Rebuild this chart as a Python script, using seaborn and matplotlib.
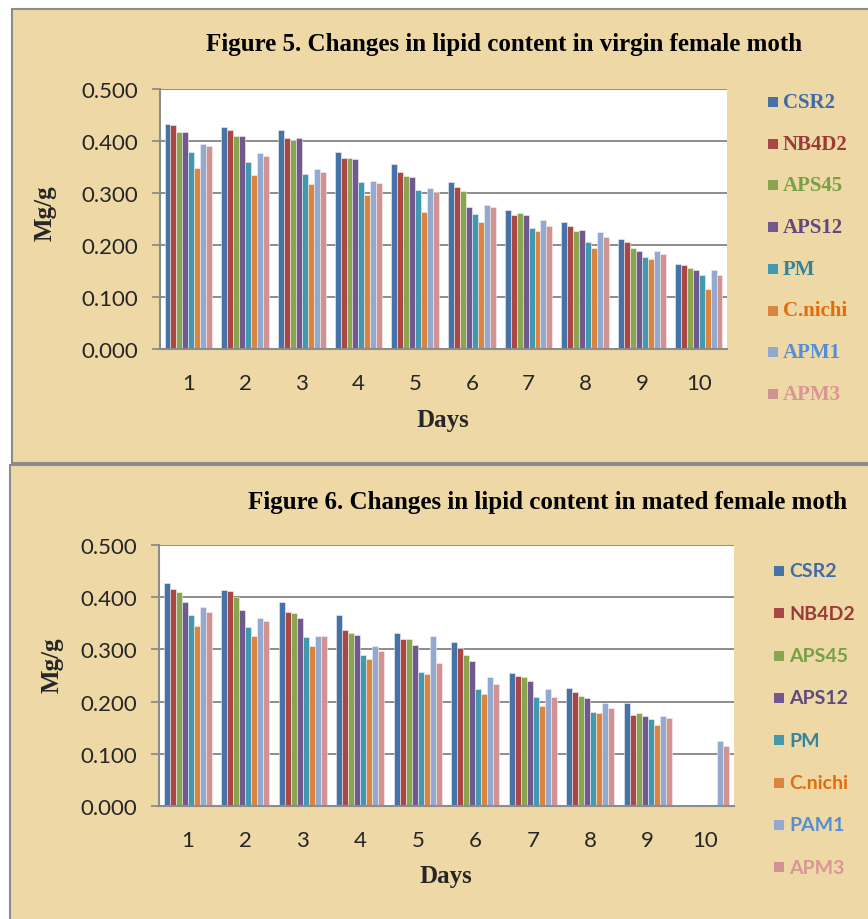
import numpy as np
import pandas as pd
import matplotlib
matplotlib.use("Agg")
import matplotlib.pyplot as plt
from matplotlib.patches import Rectangle
import seaborn as sns

sns.set_style("white")

days = ["1", "2", "3", "4", "5", "6", "7", "8", "9", "10"]
strains_top = ["CSR2", "NB4D2", "APS45", "APS12", "PM", "C.nichi", "APM1", "APM3"]
strains_bot = ["CSR2", "NB4D2", "APS45", "APS12", "PM", "C.nichi", "PAM1", "APM3"]

# Figure 5: virgin female moth (per strain, days 1..10)
v_csr2 = [0.433, 0.427, 0.422, 0.378, 0.356, 0.322, 0.267, 0.245, 0.211, 0.163]
v_nb4d2 = [0.431, 0.422, 0.406, 0.368, 0.340, 0.312, 0.258, 0.237, 0.205, 0.161]
v_aps45 = [0.418, 0.409, 0.402, 0.368, 0.333, 0.303, 0.262, 0.226, 0.195, 0.155]
v_aps12 = [0.418, 0.409, 0.406, 0.365, 0.330, 0.274, 0.257, 0.229, 0.188, 0.152]
v_pm = [0.378, 0.360, 0.337, 0.321, 0.305, 0.260, 0.232, 0.205, 0.177, 0.142]
v_cnichi = [0.349, 0.335, 0.317, 0.297, 0.264, 0.244, 0.226, 0.194, 0.174, 0.116]
v_apm1 = [0.395, 0.376, 0.347, 0.324, 0.310, 0.276, 0.248, 0.225, 0.188, 0.151]
v_apm3 = [0.391, 0.372, 0.340, 0.319, 0.301, 0.273, 0.237, 0.215, 0.182, 0.142]

# Figure 6: mated female moth
m_csr2 = [0.428, 0.413, 0.391, 0.365, 0.332, 0.315, 0.254, 0.227, 0.197, np.nan]
m_nb4d2 = [0.416, 0.411, 0.372, 0.337, 0.319, 0.302, 0.250, 0.219, 0.175, np.nan]
m_aps45 = [0.410, 0.401, 0.370, 0.332, 0.319, 0.289, 0.248, 0.210, 0.178, np.nan]
m_aps12 = [0.390, 0.376, 0.360, 0.328, 0.308, 0.277, 0.240, 0.206, 0.172, np.nan]
m_pm = [0.365, 0.342, 0.323, 0.290, 0.257, 0.225, 0.208, 0.181, 0.166, np.nan]
m_cnichi = [0.345, 0.325, 0.307, 0.281, 0.252, 0.215, 0.192, 0.179, 0.156, np.nan]
m_pam1 = [0.382, 0.361, 0.325, 0.307, 0.325, 0.248, 0.224, 0.197, 0.172, 0.125]
m_apm3 = [0.372, 0.355, 0.325, 0.296, 0.273, 0.234, 0.208, 0.187, 0.169, 0.114]

yticks = [0.0, 0.1, 0.2, 0.3, 0.4, 0.5]

bar_colors = ["#4573A7", "#AA4644", "#89A54E", "#71588F", "#4198AF", "#DB843D", "#93A9CF", "#D19392"]
text_colors = ["#3F6BA6", "#9B3B39", "#79A046", "#604A7B", "#31859C", "#E46C0A", "#558ED5", "#D99694"]

BG = "#EDD8A6"
W, H = 868, 920

def long_df(series, names):
    rows = []
    for name, vals in zip(names, series):
        for d, v in zip(days, vals):
            rows.append({"Day": d, "Strain": name, "Value": v})
    return pd.DataFrame(rows)

df_top = long_df([v_csr2, v_nb4d2, v_aps45, v_aps12, v_pm, v_cnichi, v_apm1, v_apm3], strains_top)
df_bot = long_df([m_csr2, m_nb4d2, m_aps45, m_aps12, m_pm, m_cnichi, m_pam1, m_apm3], strains_bot)

fig = plt.figure(figsize=(W / 100, H / 100), dpi=100, facecolor="white")

def px_rect(x0, y0, x1, y1):
    return [x0 / W, 1 - y1 / H, (x1 - x0) / W, (y1 - y0) / H]

# panel backgrounds
for (x0, y0, x1, y1) in [(12, 10, 880, 464), (10, 466, 880, 940)]:
    r = Rectangle((x0 / W, 1 - y1 / H), (x1 - x0) / W, (y1 - y0) / H,
                  transform=fig.transFigure, facecolor=BG, edgecolor="#8C8C8C",
                  linewidth=1.5, zorder=-5)
    fig.patches.append(r)

serif = ["Liberation Serif", "DejaVu Serif"]
sans = ["Lato", "DejaVu Sans"]

def draw_panel(rect, df, names, title, title_xy, days_xy, mg_xy, leg_x, leg_y0, leg_step, leg_font):
    ax = fig.add_axes(px_rect(*rect))
    ax.set_zorder(2)
    ax.set_facecolor("white")
    sns.barplot(data=df, x="Day", y="Value", hue="Strain", order=days, hue_order=names,
                palette=bar_colors, width=0.84, errorbar=None, ax=ax, legend=False,
                edgecolor="#F2F2F2", linewidth=0.4, saturation=1)
    ax.set_ylim(0, 0.5)
    ax.set_xlim(-0.5, len(days) - 0.5)
    ax.set_yticks(yticks)
    ax.set_yticklabels([f"{t:.3f}" for t in yticks], fontfamily=sans, fontsize=16)
    ax.set_xticks(range(len(days)))
    ax.set_xticklabels(days, fontfamily=sans, fontsize=16)
    ax.tick_params(axis="y", length=6, width=1.3, color="#8C8C8C", pad=10, left=True)
    ax.tick_params(axis="x", length=0, pad=17)
    ax.grid(axis="y", color="#8C8C8C", linewidth=1.4, zorder=0)
    ax.set_axisbelow(True)
    for s in ["top", "right"]:
        ax.spines[s].set_visible(False)
    for s in ["left", "bottom"]:
        ax.spines[s].set_color("#8C8C8C")
        ax.spines[s].set_linewidth(1.5)
    ax.set_xlabel("Days", fontfamily=serif, fontsize=18, fontweight="bold")
    ax.set_ylabel("Mg/g", fontfamily=serif, fontsize=18, fontweight="bold")
    x0, y0, x1, y1 = rect
    ax.xaxis.set_label_coords((days_xy[0] - x0) / (x1 - x0), (y1 - days_xy[1]) / (y1 - y0))
    ax.xaxis.label.set_va("center")
    ax.yaxis.set_label_coords((mg_xy[0] - x0) / (x1 - x0), (y1 - mg_xy[1]) / (y1 - y0))
    ax.yaxis.label.set_va("center")
    fig.text(title_xy[0] / W, 1 - title_xy[1] / H, title, ha="center", va="center",
             fontfamily=serif, fontsize=18, fontweight="bold", color="black")
    # legend
    for i, (name, bc, tc) in enumerate(zip(names, bar_colors, text_colors)):
        yc = leg_y0 + i * leg_step
        sq = Rectangle(((leg_x) / W, 1 - (yc + 5) / H), 10 / W, 10 / H,
                       transform=fig.transFigure, facecolor=bc, edgecolor="none")
        fig.patches.append(sq)
        fig.text((leg_x + 15) / W, 1 - yc / H, name, ha="left", va="center",
                 color=tc, **leg_font)
    return ax

draw_panel((160, 90, 727, 350), df_top, strains_top,
           "Figure 5. Changes in lipid content in virgin female moth",
           (504, 45), (443, 420), (45, 213), 768, 103, 41.7,
           dict(fontfamily=serif, fontsize=15, fontweight="bold"))
draw_panel((159, 546, 734, 807), df_bot, strains_bot,
           "Figure 6. Changes in lipid content in mated female moth",
           (548, 503), (446, 877), (52, 665), 774, 572, 42.3,
           dict(fontfamily=sans, fontsize=14, fontweight="bold"))

fig.savefig("out.png", dpi=100, facecolor="white")
